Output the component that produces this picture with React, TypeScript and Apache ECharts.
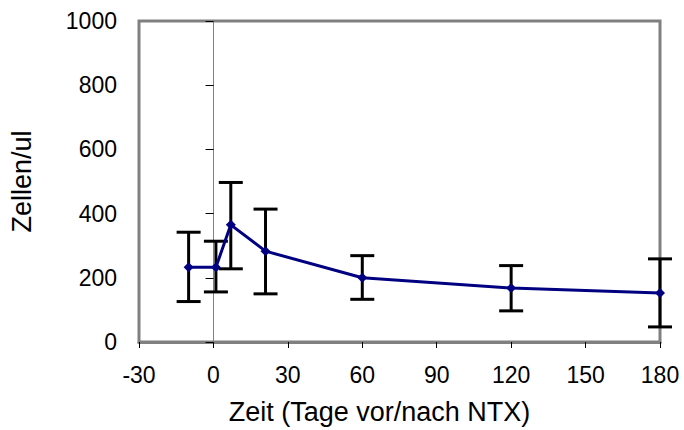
import React, { useEffect, useRef } from "react";
import * as echarts from "echarts";

const days = [-10, 1, 7, 21, 60, 120, 180];
const meanCells = [233, 233, 365, 283, 200, 168, 153];
const lowCells = [126, 156, 228, 150, 133, 97, 47];
const highCells = [342, 314, 497, 414, 269, 238, 259];
const xTicks = [-30, 0, 30, 60, 90, 120, 150, 180];
const yTicks = [0, 200, 400, 600, 800, 1000];

const FONT = "Liberation Sans, Arial, sans-serif";

export default function App() {
  const ref = useRef<HTMLDivElement>(null);
  useEffect(() => {
    if (!ref.current) return;
    const chart = echarts.init(ref.current, null, { renderer: "svg" });
    const gridLeft = 138;
    const gridRight = 24;
    const gridWidth = 684 - gridLeft - gridRight;
    const xMin = xTicks[0];
    const xMax = xTicks[xTicks.length - 1];
    const yMin = yTicks[0];
    const yMax = yTicks[yTicks.length - 1];
    const zeroOffset = ((0 - xMin) / (xMax - xMin)) * gridWidth;

    const lineData = days.map((d, i) => [d, meanCells[i]]);
    const errData = days.map((d, i) => [d, lowCells[i], highCells[i]]);

    chart.setOption({
      animation: false,
      backgroundColor: "#ffffff",
      grid: {
        left: gridLeft,
        right: gridRight,
        top: 21,
        bottom: 86,
        show: true,
        borderColor: "#808080",
        borderWidth: 3,
        backgroundColor: "transparent",
      },
      xAxis: {
        type: "value",
        min: xMin,
        max: xMax,
        interval: 30,
        name: "Zeit (Tage vor/nach NTX)",
        nameLocation: "middle",
        nameGap: 56,
        nameTextStyle: { fontFamily: FONT, fontSize: 27, color: "#000", padding: [0, 40, 0, 0] },
        axisLine: { onZero: false, lineStyle: { color: "#808080", width: 3 } },
        axisTick: { show: true, length: 6, lineStyle: { color: "#000", width: 1 } },
        axisLabel: {
          fontFamily: FONT,
          fontSize: 23,
          color: "#000",
          margin: 21,
          formatter: (v: number) => String(v),
        },
        splitLine: { show: false },
      },
      yAxis: [
        {
          type: "value",
          min: yMin,
          max: yMax,
          interval: 200,
          name: "Zellen/ul",
          nameLocation: "middle",
          nameGap: 104,
          nameRotate: 90,
          nameTextStyle: { fontFamily: FONT, fontSize: 27, color: "#000" },
          axisLine: { show: false },
          axisTick: { show: false },
          axisLabel: {
            fontFamily: FONT,
            fontSize: 23,
            color: "#000",
            margin: 22,
            formatter: (v: number) => String(v),
          },
          splitLine: { show: false },
        },
        {
          type: "value",
          min: yMin,
          max: yMax,
          interval: 200,
          position: "left",
          offset: -zeroOffset,
          axisLine: { show: true, onZero: false, lineStyle: { color: "#808080", width: 1 } },
          axisTick: { show: true, length: 8, lineStyle: { color: "#000", width: 1 } },
          axisLabel: { show: false },
          splitLine: { show: false },
        },
      ],
      series: [
        {
          type: "custom",
          yAxisIndex: 0,
          z: 2,
          data: errData,
          renderItem: (params: any, api: any) => {
            const x = api.value(0);
            const lo = api.coord([x, api.value(1)]);
            const hi = api.coord([x, api.value(2)]);
            const half = 12;
            const style = { stroke: "#000", lineWidth: 3 };
            return {
              type: "group",
              children: [
                { type: "line", shape: { x1: lo[0], y1: lo[1], x2: hi[0], y2: hi[1] }, style },
                { type: "line", shape: { x1: lo[0] - half, y1: lo[1], x2: lo[0] + half, y2: lo[1] }, style },
                { type: "line", shape: { x1: hi[0] - half, y1: hi[1], x2: hi[0] + half, y2: hi[1] }, style },
              ],
            };
          },
        },
        {
          type: "line",
          yAxisIndex: 0,
          z: 3,
          data: lineData,
          symbol: "diamond",
          symbolSize: 10,
          lineStyle: { color: "#000080", width: 3 },
          itemStyle: { color: "#000080" },
        },
      ],
    });
    return () => chart.dispose();
  }, []);
  return (
    <div
      ref={ref}
      style={{ position: "fixed", left: 0, top: 0, width: 684, height: 430, background: "#fff" }}
    />
  );
}
